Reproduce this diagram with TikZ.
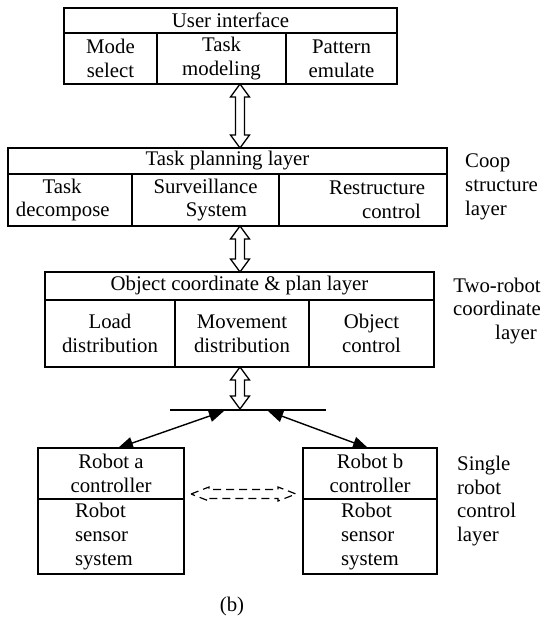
\documentclass[tikz,border=0pt]{standalone}
\usepackage{fontspec}
\setmainfont{Liberation Serif}
\usetikzlibrary{arrows.meta,calc}
% vertical hollow double arrow: x, ytop, ybottom
\newcommand{\hollowV}[3]{%
  \draw[hollow] (#1,#2) -- ({#1+9.5},{#2+13}) -- ({#1+4.5},{#2+13}) -- ({#1+4.5},{#3-13})
    -- ({#1+9.5},{#3-13}) -- (#1,#3) -- ({#1-9.5},{#3-13}) -- ({#1-4.5},{#3-13})
    -- ({#1-4.5},{#2+13}) -- ({#1-9.5},{#2+13}) -- cycle;}
\begin{document}
\begin{tikzpicture}[x=1pt,y=-1pt,
  every node/.style={font=\fontsize{20.8}{23.8}\selectfont},
  cell/.style={draw,line width=1.7pt,inner sep=0pt,outer sep=0pt,anchor=north west,align=center},
  hollow/.style={draw,line width=1.3pt,fill=white,line join=miter},
  dashedarrow/.style={draw,line width=1.2pt,dash pattern=on 8pt off 5pt},
  robarrow/.style={line width=1.4pt,{Triangle[length=15pt,width=12pt]}-{Triangle[length=15pt,width=12pt]}},
  sidelabel/.style={anchor=west,align=left,inner sep=0pt}
]
\useasboundingbox (0,0) rectangle (543,621);
% User interface
\node[cell,minimum width=333pt,minimum height=25pt] (ui) at (64,8) {User interface};
\node[cell,minimum width=93pt,minimum height=51pt] (ui1) at (64,33) {Mode\\select};
\node[cell,minimum width=129pt,minimum height=51pt] (ui2) at (157,33) {Task\\modeling};
\node[cell,minimum width=111pt,minimum height=51pt] (ui3) at (286,33) {Pattern\\emulate};
% Task planning layer
\node[cell,minimum width=439pt,minimum height=26pt] (tp) at (8,148) {Task planning layer};
\node[cell,minimum width=124pt,minimum height=52pt] (tp1) at (8,174)
  {\makebox[108pt][l]{\makebox[92pt][c]{Task}}\\\makebox[108pt][l]{decompose}};
\node[cell,minimum width=147pt,minimum height=52pt] (tp2) at (132,174) {Surveillance\\\hspace*{22pt}System};
\node[cell,minimum width=168pt,minimum height=52pt] (tp3) at (279,174)
  {\makebox[124pt][r]{Restructure}\\\makebox[124pt][r]{control\hspace*{4pt}}};
% Object coordinate layer
\node[cell,minimum width=389pt,minimum height=28pt] (oc) at (45,272) {Object coordinate \& plan layer};
\node[cell,minimum width=130pt,minimum height=67pt] (oc1) at (45,300) {Load\\distribution};
\node[cell,minimum width=134pt,minimum height=67pt] (oc2) at (175,300) {Movement\\distribution};
\node[cell,minimum width=125pt,minimum height=67pt] (oc3) at (309,300) {Object\\control};
% Robots
\node[cell,minimum width=146pt,minimum height=51pt] (ra) at (38,448) {Robot a\\controller};
\node[cell,minimum width=146pt,minimum height=75pt,align=left] (ras) at (38,499) {Robot\\sensor\\\makebox[72pt][l]{system}};
\node[cell,minimum width=134pt,minimum height=51pt] (rb) at (303,448) {Robot b\\controller};
\node[cell,minimum width=134pt,minimum height=75pt,align=left] (rbs) at (303,499) {Robot\\sensor\\system};
% hollow double arrows between layers
\hollowV{240}{84}{148}
\hollowV{240}{226}{272}
\hollowV{240}{367}{409}
% bar and robot arrows
\coordinate (bl) at (170,410);
\coordinate (br) at (326,410);
\draw[line width=1.9pt] (bl) -- (br);
\coordinate (tl) at (224,411);
\coordinate (tr) at (268,411);
\draw[robarrow] (tl) -- ([xshift=7pt]ra.north);
\draw[robarrow] (tr) -- ([xshift=-2pt]rb.north);
% dashed hollow double arrow between the robots
\draw[dashedarrow] (191,494) -- (209,487) -- (209,489.5) -- (278,489.5) -- (278,487) -- (296,494)
  -- (278,501) -- (278,498.5) -- (209,498.5) -- (209,501) -- cycle;
% side labels
\node[sidelabel] (l1) at (465,187) {Coop\\structure\\layer};
\node[align=center] (l2) at (497,311) {Two-robot\\coordinate\\\hspace*{38pt}layer};
\node[sidelabel] (l3) at (457,501) {Single\\robot\\control\\layer};
\node (cap) at (232,606) {(b)};
\end{tikzpicture}
\end{document}
